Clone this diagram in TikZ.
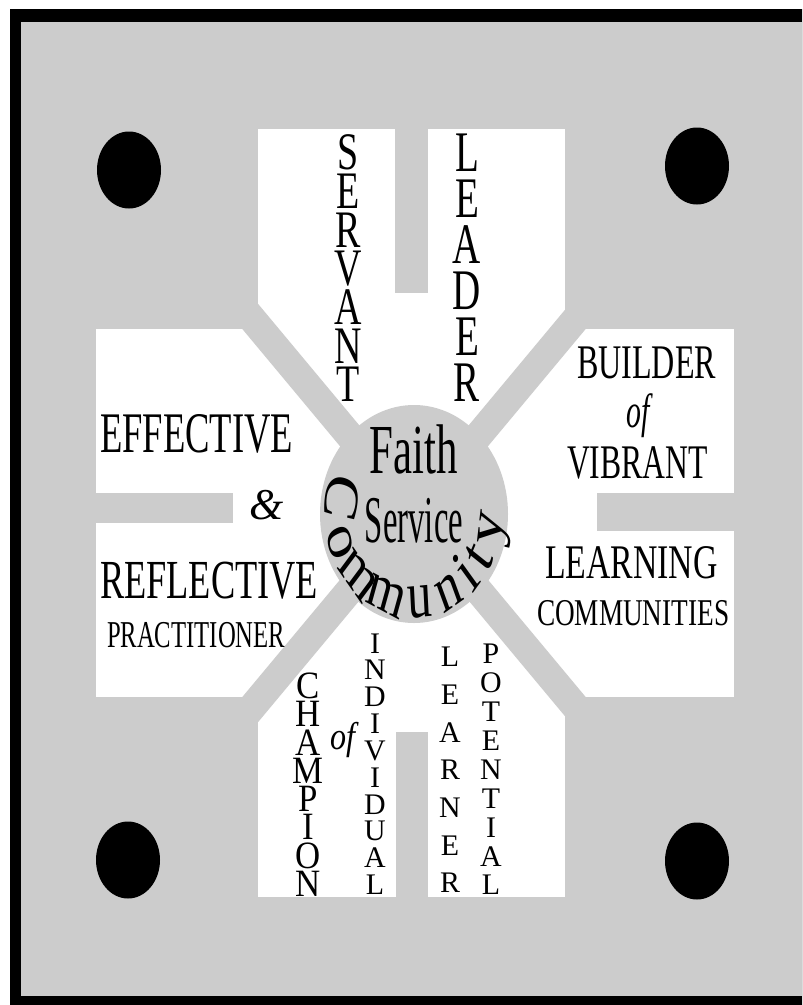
\documentclass[tikz,border=0pt]{standalone}
\usepackage{fontspec}
\setmainfont{Liberation Serif}
\usepackage{xcolor}

\definecolor{panelgray}{RGB}{204,204,204}

\begin{document}
\begin{tikzpicture}[x=0.03cm, y=-0.03cm, every node/.style={inner sep=0pt, outer sep=0pt},
  band/.style={draw=panelgray, line width=0.846cm},
  hword/.style={anchor=base west, transform shape},
  letter/.style={transform shape},
  servant/.style={letter, xscale=0.72, font=\fontsize{45}{45}\selectfont},
  leader/.style={letter, xscale=0.68, font=\fontsize{49}{49}\selectfont},
  champion/.style={letter, xscale=0.9, font=\fontsize{33}{33}\selectfont},
  smallcap/.style={letter, font=\fontsize{25.5}{25.5}\selectfont},
  commletter/.style={letter, anchor=base, xscale=0.72, font=\fontsize{58}{58}\selectfont}]
\useasboundingbox (0,0) rectangle (802,1005);
\clip (0,0) rectangle (802,1005);
% --- frame ---
\fill[white] (0,0) rectangle (802,1005);
\fill[black] (10,9) rectangle (815,1015);
\fill[panelgray] (21,22) rectangle (815,996);
% --- cross ---
\fill[white] (258,129) rectangle (565,897);
\fill[white] (96,329) rectangle (734,697);
\draw[band] (164,213) -- (664,813);
\draw[band] (664,213) -- (164,813);
\fill[panelgray] (395,120) rectangle (428,293);
\fill[panelgray] (90,493) rectangle (233,523);
\fill[panelgray] (597,493) rectangle (740,531);
\fill[panelgray] (396,732) rectangle (428,905);
\fill[panelgray] (414,514) ellipse [x radius=94, y radius=109];
% --- dots ---
\foreach \x/\y in {129/170,697/166,128/860,697/861}
  \fill[black] (\x,\y) ellipse [x radius=32, y radius=38.5];
% --- top arm ---
\foreach \c [count=\i from 0] in {S,E,R,V,A,N,T}
  \node[servant] (servant-\i) at (348,152.5+38.7*\i) {\c};
\foreach \c [count=\i from 0] in {L,E,A,D,E,R}
  \node[leader] (leader-\i) at (467,152.5+46*\i) {\c};
% --- left arm ---
\node[hword, xscale=0.637, font=\fontsize{49}{49}\selectfont] (effective) at (100,452) {EFFECTIVE};
\node[letter, font=\fontsize{37.5}{37.5}\selectfont\itshape] (amp) at (267,505) {\&};
\node[hword, xscale=0.66, font=\fontsize{47}{47}\selectfont] (reflective) at (100,598) {REFLECTIVE};
\node[hword, xscale=0.65, font=\fontsize{32.4}{32.4}\selectfont] (practitioner) at (107,647) {PRACTITIONER};
% --- right arm ---
\node[hword, xscale=0.665, font=\fontsize{41.2}{41.2}\selectfont] (builder) at (577,378) {BUILDER};
\node[letter, xscale=0.62, font=\fontsize{41}{41}\selectfont\itshape] (ofright) at (638,416) {of};
\node[hword, xscale=0.656, font=\fontsize{41.2}{41.2}\selectfont] (vibrant) at (567,478) {VIBRANT};
\node[hword, xscale=0.70, font=\fontsize{41.2}{41.2}\selectfont] (learning) at (545,578) {LEARNING};
\node[hword, xscale=0.72, font=\fontsize{32.3}{32.3}\selectfont] (communities) at (537,625) {COMMUNITIES};
% --- bottom arm ---
\foreach \c [count=\i from 0] in {C,H,A,M,P,I,O,N}
  \node[champion] (champion-\i) at (308,685.7+28.3*\i) {\c};
\node[letter, xscale=0.83, font=\fontsize{33}{33}\selectfont\itshape] (ofbottom) at (343,740) {of};
\foreach \c [count=\i from 0] in {I,N,D,I,V,I,D,U,A,L}
  \node[smallcap] (individual-\i) at (375,643.3+26.85*\i) {\c};
\foreach \c [count=\i from 0] in {L,E,A,R,N,E,R}
  \node[smallcap] (learner-\i) at (450,657+37.7*\i) {\c};
\foreach \c [count=\i from 0] in {P,O,T,E,N,T,I,A,L}
  \node[smallcap] (potential-\i) at (491,654+28.9*\i) {\c};
% --- centre ---
\node[anchor=base, transform shape, xscale=0.61, font=\fontsize{60}{60}\selectfont] (faith) at (414,473) {Faith};
\node[anchor=base, transform shape, xscale=0.49, font=\fontsize{57}{57}\selectfont] (service) at (414,542) {Service};
\foreach \c/\a [count=\i] in {C/191,o/161,m/136,m/111,u/86,n/63,i/45,t/30,y/9}
  \node[commletter, rotate={90-\a}] (community-\i) at ({414+89*cos(\a)},{514+104*sin(\a)}) {\c};
\end{tikzpicture}
\end{document}
